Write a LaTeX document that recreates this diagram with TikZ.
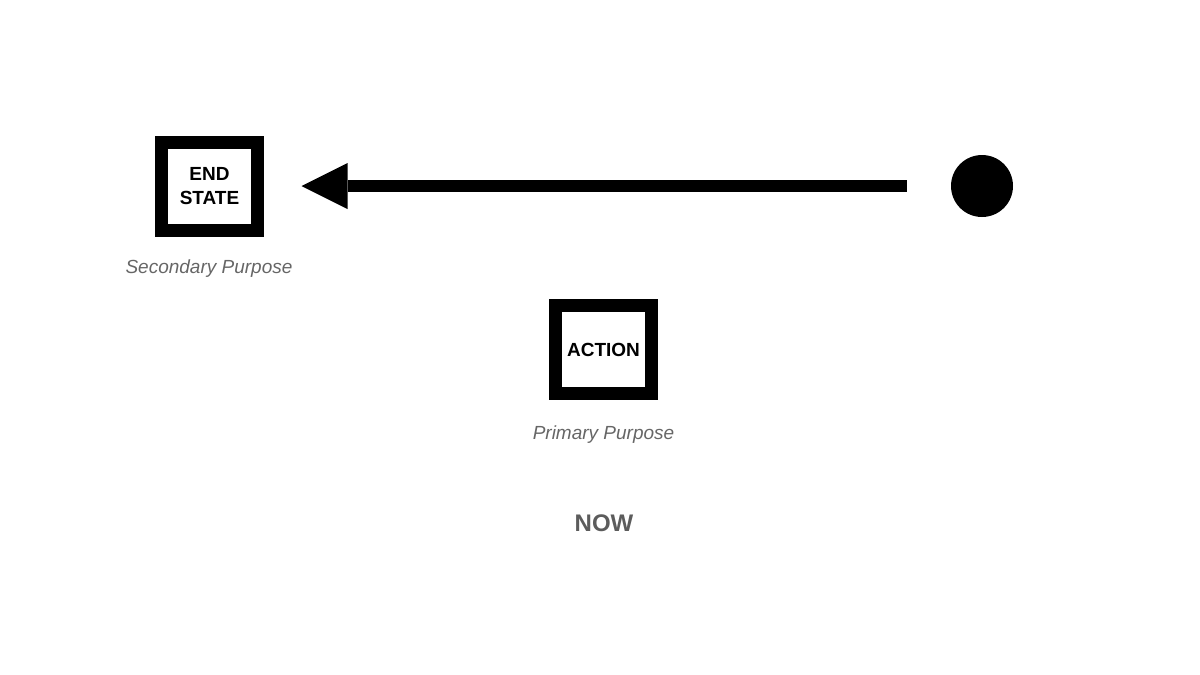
\documentclass[tikz,border=0pt]{standalone}
\usepackage{fontspec}
\setmainfont{Liberation Sans}
\usetikzlibrary{arrows.meta}
\definecolor{labelgray}{HTML}{666666}
\definecolor{nowgray}{HTML}{5C5C5C}
\begin{document}
\begin{tikzpicture}[x=1pt,y=-1pt,
  framebox/.style={draw=black,line width=13pt,fill=white,minimum width=96pt,minimum height=88pt,inner sep=0pt,align=center,font=\fontsize{19}{24}\selectfont\bfseries},
  purpose/.style={text=labelgray,font=\fontsize{19}{23}\selectfont\itshape,anchor=base,inner sep=0pt},
  origin/.style={circle,fill=black,minimum size=62pt,inner sep=0pt},
  flow/.style={line width=12pt,-{Triangle[length=46pt,width=46pt,line width=0pt]}}]
\useasboundingbox (0,0) rectangle (1200,675);
\node[framebox] (endstate) at (209.5,186) {END\\STATE};
\node[purpose] (secondary) at (209,273) {Secondary Purpose};
\node[framebox] (action) at (603.5,349.5) {ACTION};
\node[purpose] (primary) at (603.5,439.5) {Primary Purpose};
\node[text=nowgray,font=\fontsize{24}{28}\selectfont\bfseries,anchor=base,inner sep=0pt] (now) at (604,531) {NOW};
\node[origin] (dot) at (982,186) {};
\draw[flow,shorten <=44pt,shorten >=37.5pt] (dot.west) -- (endstate.east);
\end{tikzpicture}
\end{document}
